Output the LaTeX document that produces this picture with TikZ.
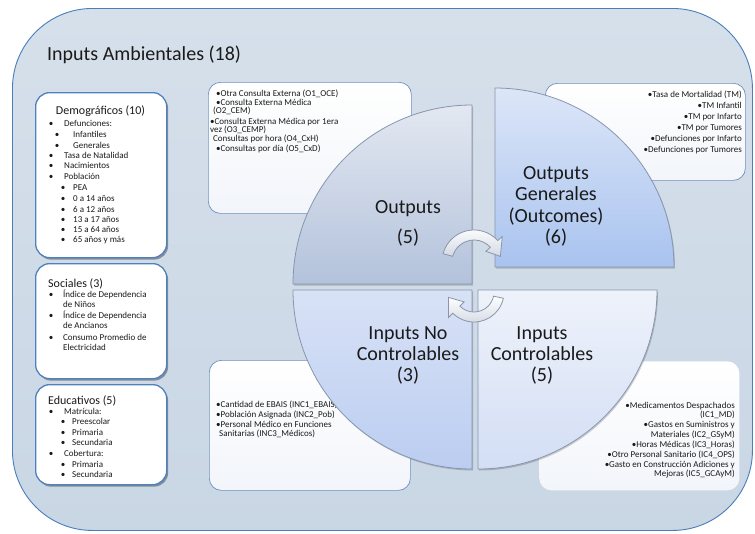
\documentclass[tikz,border=0pt]{standalone}
\usepackage{fontspec}
\setmainfont{Carlito}
\usetikzlibrary{shadows,calc}

\definecolor{envtop}{HTML}{D6E0EB}
\definecolor{envbot}{HTML}{C9D6E4}
\definecolor{envline}{HTML}{4A7EBB}
\definecolor{panelline}{HTML}{4F81BD}
\definecolor{noteline}{HTML}{6D8FC0}
\definecolor{notebot}{HTML}{F2F5FA}
\definecolor{quadline}{HTML}{8796AE}
\definecolor{otop}{HTML}{E3E8F1}
\definecolor{obot}{HTML}{B3C2DB}
\definecolor{gtop}{HTML}{DCE6F8}
\definecolor{gbot}{HTML}{A9C3EF}
\definecolor{ntop}{HTML}{D8E2F6}
\definecolor{nbot}{HTML}{BBCDF1}
\definecolor{ctop}{HTML}{EEF2FA}
\definecolor{cbot}{HTML}{D3DEF5}
\definecolor{arrbot}{HTML}{D3D9E3}
\definecolor{arrline}{HTML}{8A96A8}
\definecolor{txt}{HTML}{1A1A1A}

\newcommand\fs[1]{\fontsize{#1}{#1}\selectfont}
% bullet hanging to the left of the item text
\newcommand\bu[1]{\llap{\makebox[#1][l]{\textbullet}}}

\begin{document}
\begin{tikzpicture}[x=1pt,y=-1pt,
  lt/.style={anchor=base west, inner sep=0pt, font=\fs{9}, text=txt},
  rt/.style={anchor=base east, inner sep=0pt, font=\fs{9}, text=txt},
  head/.style={anchor=base west, inner sep=0pt, font=\fs{12}, text=txt},
  qlab/.style={anchor=base, inner sep=0pt, font=\fs{20}, text=txt},
  panel/.style={draw=panelline, line width=1.3pt, fill=white, rounded corners=14pt,
    anchor=north west, inner sep=0pt,
    drop shadow={shadow xshift=1.5pt, shadow yshift=-2pt, fill=black, opacity=0.35}},
  note/.style={draw=noteline, line width=0.7pt, top color=white, bottom color=notebot,
    rounded corners=12pt, anchor=north west, inner sep=0pt},
  quad/.style={draw=quadline, line width=0.8pt,
    drop shadow={shadow xshift=1pt, shadow yshift=-1.5pt, fill=black, opacity=0.18}},
  turn/.style={draw=arrline, line width=0.8pt, top color=white, bottom color=arrbot},
]
\useasboundingbox (0,0) rectangle (755,533);

% environment frame
\node[draw=envline, line width=0.9pt, top color=envtop, bottom color=envbot,
  rounded corners=80pt, anchor=north west, inner sep=0pt,
  minimum width=740pt, minimum height=522pt] (env) at (12,8) {};
\node[anchor=base west, inner sep=0pt, font=\fs{20}, text=txt] (title) at (47,60) {Inputs Ambientales (18)};

% left column panels
\node[panel, minimum width=131pt, minimum height=165pt] (demo) at (35,92) {};
\node[panel, minimum width=131pt, minimum height=115pt] (soc) at (35,263) {};
\node[panel, minimum width=131pt, minimum height=100pt] (edu) at (35,384) {};

\node[anchor=base, inner sep=0pt, font=\fs{12}, text=txt] (demoh) at (100.5,114) {Demográficos (10)};
\node[lt] (d1) at (64,126) {\bu{15.3pt}Defunciones:};
\node[lt] (d2) at (73,137) {\bu{18.3pt}Infantiles};
\node[lt] (d3) at (73,148) {\bu{18.3pt}Generales};
\node[lt] (d4) at (64,158) {\bu{15.3pt}Tasa de Natalidad};
\node[lt] (d5) at (64,168) {\bu{15.3pt}Nacimientos};
\node[lt] (d6) at (64,179) {\bu{15.3pt}Población};
\node[lt] (d7) at (73,190) {\bu{12.3pt}PEA};
\node[lt] (d8) at (73,201) {\bu{12.3pt}0 a 14 años};
\node[lt] (d9) at (73,212) {\bu{12.3pt}6 a 12 años};
\node[lt] (d10) at (73,222) {\bu{12.3pt}13 a 17 años};
\node[lt] (d11) at (73,232) {\bu{12.3pt}15 a 64 años};
\node[lt] (d12) at (73,242) {\bu{12.3pt}65 años y más};

\node[head] (soch) at (48,287) {Sociales (3)};
\node[lt] (s1) at (63,297) {\bu{14.3pt}Índice de Dependencia};
\node[lt] (s2) at (63,307) {de Niños};
\node[lt] (s3) at (63,318) {\bu{14.3pt}Índice de Dependencia};
\node[lt] (s4) at (63,328) {de Ancianos};
\node[lt] (s5) at (63,340) {\bu{14.3pt}Consumo Promedio de};
\node[lt] (s6) at (63,350) {Electricidad};

\node[head] (eduh) at (48,404) {Educativos (5)};
\node[lt] (e1) at (64,414) {\bu{15.3pt}Matrícula:};
\node[lt] (e2) at (72,424) {\bu{11.3pt}Preescolar};
\node[lt] (e3) at (72,435) {\bu{11.3pt}Primaria};
\node[lt] (e4) at (72,445) {\bu{11.3pt}Secundaria};
\node[lt] (e5) at (64,456) {\bu{15.3pt}Cobertura:};
\node[lt] (e6) at (72,467) {\bu{11.3pt}Primaria};
\node[lt] (e7) at (72,477) {\bu{11.3pt}Secundaria};

% indicator notes behind the cycle
\node[note, minimum width=203pt, minimum height=131pt] (outn) at (208,82) {};
\node[note, minimum width=200pt, minimum height=97pt] (gen) at (545,83) {};
\node[note, minimum width=201pt, minimum height=130pt] (incn) at (209,360) {};
\node[note, draw=none, minimum width=200pt, minimum height=129pt] (icn) at (539,361) {};

\node[lt] (o1) at (216,96) {\textbullet{}Otra Consulta Externa (O1\_OCE)};
\node[lt] (o2) at (216,105) {\textbullet{}Consulta Externa Médica};
\node[lt] (o3) at (213,113) {(O2\_CEM)};
\node[lt] (o4) at (210,124) {\textbullet{}Consulta Externa Médica por 1era};
\node[lt] (o5) at (210,132) {vez (O3\_CEMP)};
\node[lt] (o6) at (213,141) {Consultas por hora (O4\_CxH)};
\node[lt] (o7) at (216,151) {\textbullet{}Consultas por día (O5\_CxD)};

\node[rt] (g1) at (742,97) {\textbullet{}Tasa de Mortalidad (TM)};
\node[rt] (g2) at (742,108) {\textbullet{}TM Infantil};
\node[rt] (g3) at (742,119) {\textbullet{}TM por Infarto};
\node[rt] (g4) at (742,130) {\textbullet{}TM por Tumores};
\node[rt] (g5) at (742,141) {\textbullet{}Defunciones por Infarto};
\node[rt] (g6) at (742,152) {\textbullet{}Defunciones por Tumores};

\node[lt] (n1) at (216,407) {\textbullet{}Cantidad de EBAIS (INC1\_EBAIS)};
\node[lt] (n2) at (216,417) {\textbullet{}Población Asignada (INC2\_Pob)};
\node[lt] (n3) at (216,427) {\textbullet{}Personal Médico en Funciones};
\node[lt] (n4) at (219,436) {Sanitarias (INC3\_Médicos)};

\node[rt] (c1) at (735,408) {\textbullet{}Medicamentos Despachados};
\node[rt] (c2) at (735,417) {(IC1\_MD)};
\node[rt] (c3) at (735,427) {\textbullet{}Gastos en Suministros y};
\node[rt] (c4) at (735,437) {Materiales (IC2\_GSyM)};
\node[rt] (c5) at (735,447) {\textbullet{}Horas Médicas (IC3\_Horas)};
\node[rt] (c6) at (735,457) {\textbullet{}Otro Personal Sanitario (IC4\_OPS)};
\node[rt] (c7) at (735,467) {\textbullet{}Gasto en Construcción Adiciones y};
\node[rt] (c8) at (735,476) {Mejoras (IC5\_GCAyM)};

% the four quarters of the cycle
\path[quad, top color=otop, bottom color=obot]
  (472,284) -- (293,284) arc[start angle=180, end angle=270, radius=179] -- cycle;
\path[quad, top color=gtop, bottom color=gbot]
  (495,88) arc[start angle=270, end angle=360, radius=179] -- (495,267) -- cycle;
\path[quad, top color=ntop, bottom color=nbot]
  (293,290) arc[start angle=180, end angle=90, radius=179] -- (472,290) -- cycle;
\path[quad, top color=ctop, bottom color=cbot]
  (657,290) arc[start angle=0, end angle=90, radius=179] -- (478,290) -- cycle;

% circular arrows in the middle
\coordinate (ta) at (474,262);
\coordinate (tb) at (474,292);
\path[turn] ($(ta)+(195:32)$) arc[start angle=195, end angle=318, radius=32]
  -- ($(ta)+(318:38)$) -- ($(ta)+(348:27)$) -- ($(ta)+(318:16)$) -- ($(ta)+(318:22)$)
  arc[start angle=318, end angle=195, radius=22] -- cycle;
\path[turn] ($(tb)+(12:30)$) arc[start angle=12, end angle=135, radius=30]
  -- ($(tb)+(135:36)$) -- ($(tb)+(168:26)$) -- ($(tb)+(135:14)$) -- ($(tb)+(135:20)$)
  arc[start angle=135, end angle=12, radius=20] -- cycle;

% quarter labels
\node[qlab] (qo1) at (408,213) {Outputs};
\node[qlab] (qo2) at (408,243) {(5)};
\node[qlab] (qg1) at (556,179) {Outputs};
\node[qlab] (qg2) at (556,200) {Generales};
\node[qlab] (qg3) at (556,222) {(Outcomes)};
\node[qlab] (qg4) at (556,243) {(6)};
\node[qlab] (qn1) at (408,339) {Inputs No};
\node[qlab] (qn2) at (408,360) {Controlables};
\node[qlab] (qn3) at (408,381) {(3)};
\node[qlab] (qc1) at (542,339) {Inputs};
\node[qlab] (qc2) at (542,360) {Controlables};
\node[qlab] (qc3) at (542,381) {(5)};
\end{tikzpicture}
\end{document}
